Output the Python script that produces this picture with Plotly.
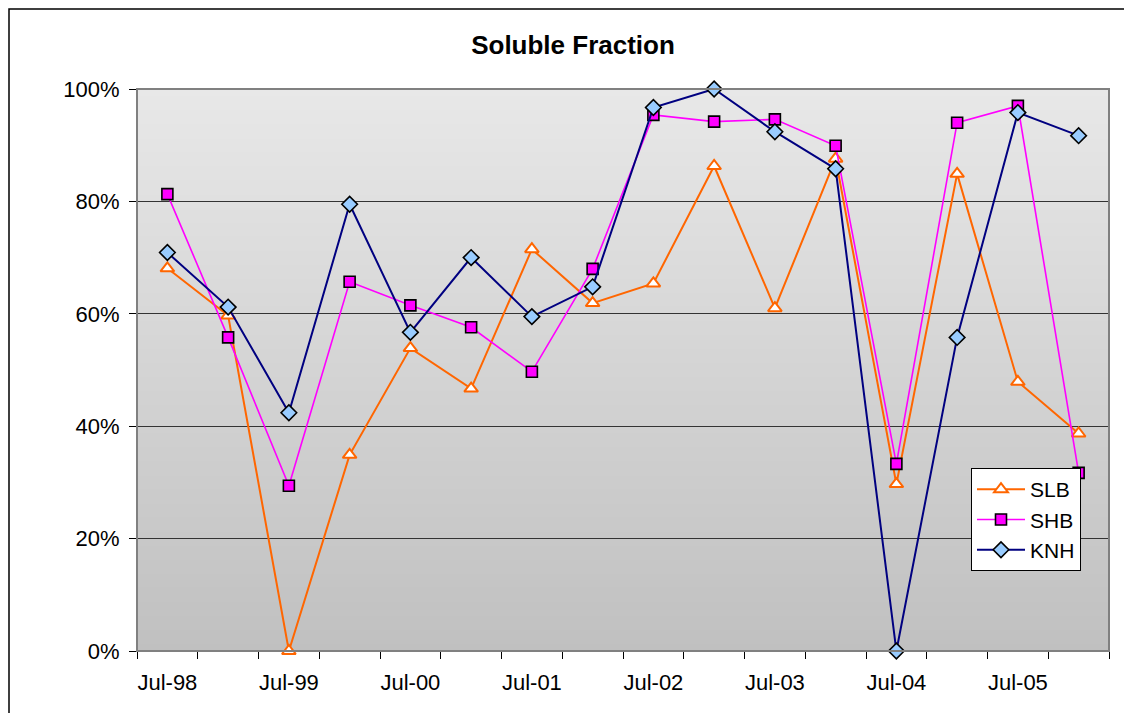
import plotly.graph_objects as go

# ── Data (half-yearly sampling, Jul-98 … Jan-06) ─────────────────────────────
periods = [
    "Jul-98", "Jan-99", "Jul-99", "Jan-00", "Jul-00", "Jan-01", "Jul-01", "Jan-02",
    "Jul-02", "Jan-03", "Jul-03", "Jan-04", "Jul-04", "Jan-05", "Jul-05", "Jan-06",
]
tick_labels = [p if p.startswith("Jul") else "" for p in periods]

slb = [0.681, 0.597, 0.000, 0.349, 0.539, 0.467, 0.715, 0.619,
       0.654, 0.863, 0.610, 0.876, 0.297, 0.849, 0.479, 0.387]
shb = [0.813, 0.558, 0.294, 0.657, 0.615, 0.576, 0.497, 0.680,
       0.954, 0.942, 0.946, 0.899, 0.333, 0.940, 0.970, 0.317]
knh = [0.709, 0.612, 0.424, 0.795, 0.567, 0.700, 0.595, 0.648,
       0.967, 1.000, 0.924, 0.858, 0.000, 0.558, 0.958, 0.917]

# ── Style ────────────────────────────────────────────────────────────────────
FONT = "Liberation Sans, Arial, sans-serif"
ORANGE = "#FF6600"
MAGENTA = "#FF00FF"
NAVY = "#000080"
LIGHT_BLUE = "#99CCFF"
BG_TOP = (232, 232, 232)
BG_BOTTOM = (192, 192, 192)

# page has an 8px body margin, so the figure is a bit smaller than the window
W, H = 1124, 705
M_L, M_R, M_T, M_B = 129, 23, 81, 62
PW, PH = W - M_L - M_R, H - M_T - M_B

fig = go.Figure()

fig.add_trace(go.Scatter(
    x=periods, y=slb, name="SLB", mode="lines+markers", cliponaxis=False,
    line=dict(color=ORANGE, width=2),
    marker=dict(symbol="triangle-up", size=12, color="white",
                line=dict(color=ORANGE, width=2)),
))
fig.add_trace(go.Scatter(
    x=periods, y=shb, name="SHB", mode="lines+markers", cliponaxis=False,
    line=dict(color=MAGENTA, width=1.6),
    marker=dict(symbol="square", size=11, color=MAGENTA,
                line=dict(color="black", width=1.6)),
))
fig.add_trace(go.Scatter(
    x=periods, y=knh, name="KNH", mode="lines+markers", cliponaxis=False,
    line=dict(color=NAVY, width=2),
    marker=dict(symbol="diamond", size=12, color=LIGHT_BLUE,
                line=dict(color="black", width=1.6)),
))

# vertical grey gradient behind the plot area (Excel style)
n_strips = 80
shapes = []
for k in range(n_strips):
    t = k / (n_strips - 1)
    c = tuple(round(BG_BOTTOM[j] + (BG_TOP[j] - BG_BOTTOM[j]) * t) for j in range(3))
    shapes.append(dict(
        type="rect", xref="x domain", yref="y domain", layer="below",
        x0=0, x1=1, y0=k / n_strips, y1=(k + 1) / n_strips + 0.002,
        fillcolor=f"rgb{c}", line=dict(width=0),
    ))
# plot-area border (grey) and outer chart border (black, cropped)
shapes.append(dict(type="rect", xref="x domain", yref="y domain", layer="above",
                   x0=0, x1=1, y0=0, y1=1, line=dict(color="#808080", width=2)))
shapes.append(dict(type="rect", xref="paper", yref="paper",
                   x0=(1 - M_L) / PW, x1=1.2,
                   y0=-0.3, y1=(H - M_B - 1) / PH,
                   line=dict(color="black", width=1.5)))

fig.update_layout(
    width=W, height=H,
    margin=dict(l=M_L, r=M_R, t=M_T, b=M_B),
    paper_bgcolor="white", plot_bgcolor="#D4D4D4",
    font=dict(family=FONT, size=22, color="black"),
    title=dict(text="<b>Soluble Fraction</b>", x=565 / W, xanchor="center",
               y=1 - 37 / H, yanchor="middle", font=dict(size=26)),
    shapes=shapes,
    showlegend=True,
    legend=dict(
        x=(963 - M_L) / PW, y=(H - M_B - 460) / PH,
        xanchor="left", yanchor="top",
        bgcolor="white", bordercolor="black", borderwidth=1,
        font=dict(size=21), itemwidth=48,
    ),
)

fig.update_xaxes(
    type="category", tickvals=periods, ticktext=tick_labels,
    tickson="boundaries", ticks="outside", ticklen=7, tickcolor="black",
    ticklabelstandoff=12,
    showgrid=False, showline=True, linecolor="black", linewidth=1,
    zeroline=False, tickangle=0, range=[-0.5, len(periods) - 0.5],
)
fig.update_yaxes(
    range=[0, 1], dtick=0.2, tickformat=".0%",
    ticks="outside", ticklen=7, tickcolor="black", ticklabelstandoff=5,
    showgrid=True, gridcolor="#333333", gridwidth=1,
    showline=True, linecolor="black", linewidth=1, zeroline=False,
)

fig.write_html("out.html")
